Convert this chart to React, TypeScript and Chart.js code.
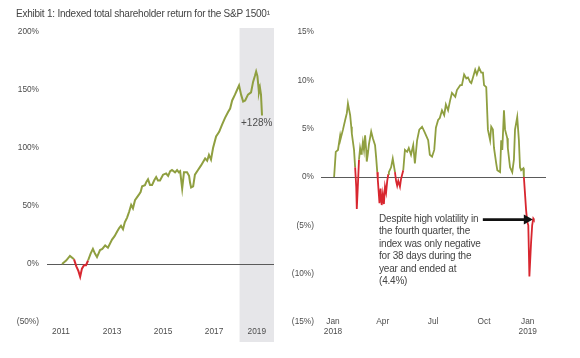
import React, { useEffect, useRef } from "react";
import { Chart, registerables } from "chart.js";
Chart.register(...registerables);

const FONT = '"Liberation Sans Narrow", "Liberation Sans", Arial, sans-serif';
const GREEN = "#8f9f40";
const RED = "#d8262f";
const TEXT = "#4d4d4d";
const TICK_SIZE = 8.3;

const titleText = "Exhibit 1: Indexed total shareholder return for the S&P 1500\u00b9";
const endLabel = "+128%";

// Left chart: indexed TSR since 2011 (x in fractional years, y in %)
const leftYears = [
  2011.04, 2011.2, 2011.35, 2011.51, 2011.6, 2011.68, 2011.75, 2011.82, 2011.9, 2011.98,
  2012.06, 2012.16, 2012.25, 2012.33, 2012.41, 2012.53, 2012.62, 2012.73, 2012.84, 2013.0,
  2013.1, 2013.2, 2013.28, 2013.35, 2013.43, 2013.5, 2013.59, 2013.67, 2013.75, 2013.82,
  2013.9, 2014.06, 2014.12, 2014.18, 2014.29, 2014.35, 2014.41, 2014.49, 2014.57, 2014.65,
  2014.73, 2014.8, 2014.88, 2015.0, 2015.12, 2015.2, 2015.28, 2015.35, 2015.47, 2015.55,
  2015.62, 2015.67, 2015.75, 2015.82, 2015.94, 2016.02, 2016.06, 2016.1, 2016.18, 2016.25,
  2016.37, 2016.49, 2016.57, 2016.65, 2016.73, 2016.8, 2016.88, 2016.96, 2017.08, 2017.2,
  2017.31, 2017.43, 2017.55, 2017.63, 2017.71, 2017.82, 2017.9, 2017.98, 2018.06, 2018.14,
  2018.22, 2018.33, 2018.45, 2018.53, 2018.6, 2018.65, 2018.7, 2018.73, 2018.76, 2018.8,
  2018.84, 2018.88,
];
const leftReturns = [
  0, 3, 7, 4, -2, -6, -11, -4, -1, -1,
  3, 9, 13, 9, 6, 12, 13, 16, 14, 21,
  24, 28, 31, 33, 30, 36, 40, 45, 51, 48,
  55, 60, 62, 67, 68, 71, 73, 68, 68, 72,
  75, 72, 72, 77, 78, 76, 80, 81, 79, 81,
  79, 80, 65, 79, 79, 76, 70, 66, 67, 77,
  81, 85, 88, 91, 89, 94, 90, 100, 110, 114,
  120, 126, 131, 134, 141, 146, 150, 154, 146, 140,
  141, 146, 148, 157, 162, 166, 162, 155, 148, 152,
  146, 128,
];
const leftTickYears = [2011, 2013, 2015, 2017];
const leftTickLabels = ["2011", "2013", "2015", "2017", "2019"];
const highlightStartYear = 2018;

// Right chart: 2018 daily return (x in days since Jan 1 2018, y in %)
const rightDays = [
  2, 5, 9, 13, 14, 18, 22, 25, 27, 29, 31, 33, 34, 38, 40, 42, 43, 45, 47, 49,
  51, 52, 54, 56, 58, 60, 61, 63, 65, 69, 72, 76, 78, 80, 81, 84, 86, 88, 90, 92,
  94, 96, 98, 100, 101, 105, 108, 112, 114, 116, 118, 121, 123, 127, 130, 134, 137, 141, 145, 148,
  152, 156, 161, 166, 172, 175, 179, 183, 186, 190, 193, 197, 201, 204, 208, 212, 215, 221, 224, 230,
  233, 237, 241, 244, 248, 250, 253, 257, 260, 264, 268, 271, 273, 277, 280, 284, 286, 289, 291, 295,
  297, 302, 304, 306, 309, 311, 315, 316, 320, 324, 327, 329, 333, 336, 338, 340, 344, 345, 347, 349,
  351, 353, 355, 358, 360, 362, 363,
];
const rightReturns = [
  0, 2.6, 2.8, 4.3, 4.0, 4.9, 5.9, 6.6, 7.6, 7.0, 6.4, 5.2, 4.5, 2.8, 1.0, -1.0, -3.3, -0.8, 1.8, 3.0,
  2.4, 2.6, 3.6, 2.8, 4.3, 2.8, 1.6, 2.4, 3.4, 4.7, 4.0, 3.3, 2.0, 0.5, -0.3, -2.7, -1.2, -2.9, -1.8, -2.8,
  -1.0, -1.6, -0.4, 0.3, 0.5, 1.0, 1.9, 0.5, -0.4, -0.9, -0.4, -1.0, -0.2, 0.7, 2.8, 2.6, 3.0, 2.3, 3.3, 1.4,
  3.8, 4.9, 5.2, 4.6, 3.8, 2.3, 2.1, 2.8, 5.1, 5.9, 6.1, 6.9, 6.4, 7.5, 6.9, 8.0, 8.7, 8.3, 9.0, 9.5,
  9.5, 10.6, 10.2, 10.3, 9.8, 9.7, 10.3, 11.1, 10.6, 11.3, 10.8, 10.8, 9.5, 9.3, 4.9, 3.8, 5.2, 4.9, 3.0, 1.4,
  0.7, 0.5, 3.8, 2.8, 6.9, 4.9, 4.0, 3.0, 1.0, 0.5, 1.8, 4.9, 6.2, 3.8, 1.0, 0.7, 0.9, 0.0, -1.7, -3.4,
  -4.6, -5.0, -10.3, -6.8, -5.0, -4.3, -4.4,
];
const rightTickDays = [0, 90, 181, 273, 352];
const rightTickLabels: (string | string[])[] = [["Jan", "2018"], "Apr", "Jul", "Oct", ["Jan", "2019"]];

const annotationLines = [
  "Despite high volatility in",
  "the fourth quarter, the",
  "index was only negative",
  "for 38 days during the",
  "year and ended at",
  "(4.4%)",
];

const pct = (v: number) => (v < 0 ? `(${-v}%)` : `${v}%`);

const segmentColor = (ctx: any) =>
  ctx.p0.parsed.y < 0 || ctx.p1.parsed.y < 0 ? RED : GREEN;

const bandPlugin = {
  id: "band",
  beforeDraw(chart: any) {
    const { ctx, chartArea, scales } = chart;
    const x0 = scales.x.getPixelForValue(highlightStartYear);
    const top = chartArea.top - 4;
    const bottom = chartArea.bottom + 20;
    ctx.save();
    ctx.fillStyle = "#e6e6e9";
    ctx.fillRect(x0, top, chartArea.right - x0, bottom - top);
    ctx.restore();
  },
};

const arrowPlugin = {
  id: "arrow",
  afterDatasetsDraw(chart: any) {
    const meta = chart.getDatasetMeta(0);
    const last = meta.data[meta.data.length - 1];
    if (!last) return;
    const ctx = chart.ctx;
    const tipX = last.x - 1;
    const tipY = last.y;
    const tailX = tipX - 50;
    ctx.save();
    ctx.strokeStyle = "#111";
    ctx.fillStyle = "#111";
    ctx.lineWidth = 2.8;
    ctx.beginPath();
    ctx.moveTo(tailX, tipY);
    ctx.lineTo(tipX - 7, tipY);
    ctx.stroke();
    ctx.beginPath();
    ctx.moveTo(tipX, tipY);
    ctx.lineTo(tipX - 9, tipY - 5);
    ctx.lineTo(tipX - 9, tipY + 5);
    ctx.closePath();
    ctx.fill();
    ctx.restore();
  },
};

// lets the two-line x labels of the right chart sit level with the bottom y label
const raiseXLabels = {
  id: "raiseX",
  afterLayout(chart: any) {
    chart.scales.x.top -= 14;
  },
};

function baseYScale(min: number, max: number, step: number, yWidth: number, pad: number) {
  return {
    type: "linear" as const,
    min,
    max,
    afterFit: (s: any) => {
      s.width = yWidth;
    },
    ticks: {
      stepSize: step,
      padding: pad,
      color: TEXT,
      font: { family: FONT, size: TICK_SIZE },
      callback: (v: any) => pct(Number(v)),
    },
    grid: {
      drawTicks: false,
      color: (c: any) => (c.tick && c.tick.value === 0 ? "#5a5a5a" : "rgba(0,0,0,0)"),
      lineWidth: 1,
    },
    border: { display: false },
  };
}

function LeftChart() {
  const ref = useRef<HTMLCanvasElement>(null);
  useEffect(() => {
    if (!ref.current) return;
    const xMax = 2019.35;
    const chart = new Chart(ref.current, {
      type: "line",
      data: {
        datasets: [
          {
            data: leftYears.map((x, i) => ({ x, y: leftReturns[i] })),
            borderColor: GREEN,
            borderWidth: 2,
            pointRadius: 0,
            tension: 0,
            segment: { borderColor: segmentColor },
          },
        ],
      },
      options: {
        animation: false,
        responsive: false,
        events: [],
        layout: { padding: { top: 32, right: 16, left: 0, bottom: 0 } },
        plugins: { legend: { display: false }, tooltip: { enabled: false } },
        scales: {
          x: {
            type: "linear",
            min: 2010.45,
            max: xMax,
            afterFit: (s: any) => {
              s.height = 36;
            },
            afterBuildTicks: (s: any) => {
              s.ticks = [...leftTickYears, (highlightStartYear + xMax) / 2].map((v) => ({ value: v }));
            },
            ticks: {
              autoSkip: false,
              maxRotation: 0,
              padding: 5,
              color: TEXT,
              font: { family: FONT, size: TICK_SIZE },
              callback: (_v: any, i: number) => leftTickLabels[i],
            },
            grid: { display: false, drawTicks: false },
            border: { display: false },
          },
          y: baseYScale(-50, 200, 50, 47, 8),
        },
      },
      plugins: [bandPlugin],
    });
    return () => chart.destroy();
  }, []);
  return <canvas ref={ref} width={290} height={358} style={{ width: 290, height: 358, display: "block" }} />;
}

function RightChart() {
  const ref = useRef<HTMLCanvasElement>(null);
  useEffect(() => {
    if (!ref.current) return;
    const chart = new Chart(ref.current, {
      type: "line",
      data: {
        datasets: [
          {
            data: rightDays.map((x, i) => ({ x, y: rightReturns[i] })),
            borderColor: GREEN,
            borderWidth: 1.8,
            pointRadius: 0,
            tension: 0,
            segment: { borderColor: segmentColor },
          },
        ],
      },
      options: {
        animation: false,
        responsive: false,
        events: [],
        layout: { padding: { top: 32, right: 34, left: 0, bottom: 0 } },
        plugins: { legend: { display: false }, tooltip: { enabled: false } },
        scales: {
          x: {
            type: "linear",
            min: -21.7,
            max: 385,
            afterFit: (s: any) => {
              s.height = 36;
            },
            afterBuildTicks: (s: any) => {
              s.ticks = rightTickDays.map((v) => ({ value: v }));
            },
            ticks: {
              autoSkip: false,
              maxRotation: 0,
              padding: 9,
              color: TEXT,
              font: { family: FONT, size: TICK_SIZE, lineHeight: 1.2 },
              callback: (_v: any, i: number) => rightTickLabels[i],
            },
            grid: { display: false, drawTicks: false },
            border: { display: false },
          },
          y: baseYScale(-15, 15, 5, 41, 7),
        },
      },
      plugins: [arrowPlugin, raiseXLabels],
    });
    return () => chart.destroy();
  }, []);
  return <canvas ref={ref} width={300} height={358} style={{ width: 300, height: 358, display: "block" }} />;
}

export default function App() {
  return (
    <div
      style={{
        position: "fixed",
        left: 0,
        top: 0,
        width: 580,
        height: 358,
        background: "#fff",
        overflow: "hidden",
        fontFamily: FONT,
        color: TEXT,
      }}
    >
      <div style={{ position: "absolute", left: 0, top: 0 }}>
        <LeftChart />
      </div>
      <div style={{ position: "absolute", left: 280, top: 0 }}>
        <RightChart />
      </div>
      <div
        style={{
          position: "absolute",
          left: 16,
          top: 7,
          fontSize: 10,
          letterSpacing: "-0.23px",
          whiteSpace: "nowrap",
          lineHeight: "14px",
          color: "#444",
        }}
      >
        {titleText}
      </div>
      <div style={{ position: "absolute", left: 241, top: 116, fontSize: 10, lineHeight: "14px", whiteSpace: "nowrap" }}>
        {endLabel}
      </div>
      <div
        style={{
          position: "absolute",
          left: 379,
          top: 212.5,
          fontSize: 10,
          letterSpacing: "-0.2px",
          lineHeight: "12.6px",
          whiteSpace: "nowrap",
          color: "#444",
        }}
      >
        {annotationLines.map((l, i) => (
          <div key={i}>{l}</div>
        ))}
      </div>
    </div>
  );
}
